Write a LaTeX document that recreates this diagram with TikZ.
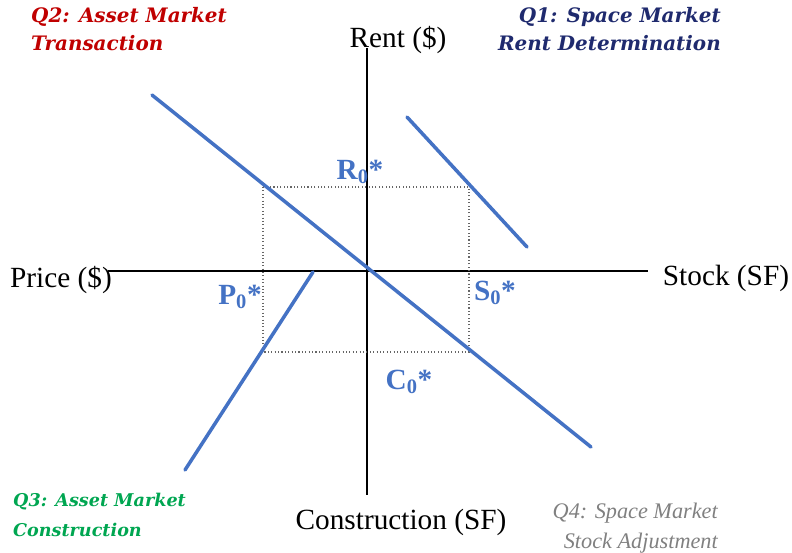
\documentclass[tikz,border=0pt]{standalone}
\usepackage{fontspec}
\setmainfont{Liberation Serif}
\newfontfamily\quadfont{DejaVu Serif}
\usetikzlibrary{positioning,calc}
\definecolor{lineblue}{RGB}{68,114,196}
\definecolor{qred}{RGB}{192,0,0}
\definecolor{qnavy}{RGB}{31,42,110}
\definecolor{qgreen}{RGB}{0,166,81}
\definecolor{qgray}{RGB}{128,128,128}

\begin{document}
\begin{tikzpicture}[
    x=0.03cm, y=-0.03cm,
    axis/.style={draw=black, line width=1.1pt},
    axislabel/.style={font=\fontsize{25}{30}\selectfont, inner sep=0pt},
    schedule/.style={draw=lineblue, line width=3pt, line cap=round},
    equil/.style={draw=gray!80!black, dotted, line width=0.9pt},
    eqlabel/.style={font=\fontsize{25}{30}\selectfont\bfseries, text=lineblue, inner sep=0pt},
    quadlabel/.style={font=\quadfont\fontsize{17}{24}\selectfont\bfseries\itshape, inner sep=0pt}
]
    \useasboundingbox (0,0) rectangle (792,552);

    % ---- Axes ----
    \coordinate (ytop) at (367,48);
    \coordinate (ybot) at (367,495);
    \coordinate (xleft) at (108,271);
    \coordinate (xright) at (648,271);
    \draw[axis] (ytop) -- (ybot);
    \draw[axis] (xleft) -- (xright);
    \node[axislabel] (rent) at (398,40) {Rent (\$)};
    \node[axislabel] (price) at (61,280) {Price (\$)};
    \node[axislabel] (stock) at (726,278) {Stock (SF)};
    \node[axislabel] (constr) at (401,522) {Construction (SF)};

    % ---- Equilibrium box ----
    \draw[equil] (263,187) rectangle (469,352);

    % ---- Schedules ----
    \coordinate (q1a) at (407,117);
    \coordinate (q1b) at (527,247);
    \coordinate (q2a) at (152,95);
    \coordinate (q2b) at (591,447);
    \coordinate (q3a) at (313,272);
    \coordinate (q3b) at (185,470);
    \draw[schedule] (q1a) -- (q1b);
    \draw[schedule] (q2a) -- (q2b);
    \draw[schedule] (q3a) -- (q3b);

    % ---- Equilibrium labels ----
    \node[eqlabel] (r0) at (360,172) {R$_{\mathbf{0}}$*};
    \node[eqlabel] (p0) at (240,297) {P$_{\mathbf{0}}$*};
    \node[eqlabel] (s0) at (495,293) {S$_{\mathbf{0}}$*};
    \node[eqlabel] (c0) at (409,382) {C$_{\mathbf{0}}$*};

    % ---- Quadrant titles ----
    \node[quadlabel, text=qred, align=left, anchor=west] (q2) at (31,29)
        {Q2: Asset Market\\Transaction};
    \node[quadlabel, text=qnavy, align=right, anchor=east] (q1) at (721,29)
        {Q1: Space Market\\Rent Determination};
    \node[quadlabel, text=qgreen, align=left, anchor=west, font=\quadfont\fontsize{15}{26}\selectfont\bfseries\itshape] (q3) at (13,515)
        {Q3: Asset Market\\Construction};
    \node[text=qgray, align=right, anchor=east, inner sep=0pt, font=\fontsize{19}{25}\selectfont\itshape] (q4) at (718,528)
        {Q4: Space Market\\Stock Adjustment};
\end{tikzpicture}
\end{document}
